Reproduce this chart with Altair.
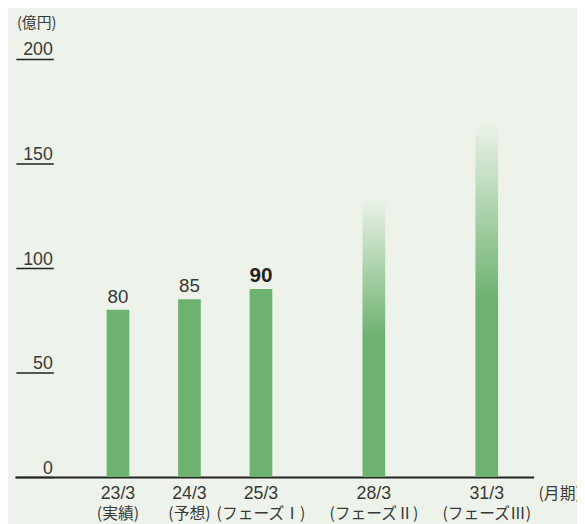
import altair as alt
import pandas as pd

# ---- data ----
years = [23, 24, 25, 28, 31]
periods = ["23/3", "24/3", "25/3", "28/3", "31/3"]
notes = ["(実績)", "(予想)", "(フェーズⅠ)", "(フェーズⅡ)", "(フェーズⅢ)"]
values = [80, 85, 90, 134, 170]
kinds = ["actual", "actual", "actual", "target", "target"]
value_labels = ["80", "85", "90", "", ""]
emphasis = [False, False, True, False, False]
y_ticks = [0, 50, 100, 150, 200]
unit_label = "(億円)"
period_unit = "(月期)"

df = pd.DataFrame({
    "year": years, "period": periods, "note": notes, "value": values,
    "kind": kinds, "label": value_labels, "emph": emphasis,
})

BG = "#edf3ea"
GREEN = "#6db26f"
TXT = "#383838"
AXC = "#222222"
FONT = "Liberation Sans, Noto Sans CJK JP, sans-serif"
JFONT = "Noto Sans CJK JP, Liberation Sans, sans-serif"

xscale = alt.Scale(domain=[21, 23, 25, 31, 32], range=[0, 104.5, 249.5, 478.5, 526], nice=False, zero=False)
yscale = alt.Scale(domain=[0, 200], nice=False)

base = alt.Chart(df)

xenc = alt.X("year:Q", scale=xscale,
             axis=alt.Axis(labels=False, ticks=False, domain=True, domainColor=AXC,
                           domainWidth=2, grid=False, title=None))
yenc = alt.Y("value:Q", scale=yscale,
             axis=alt.Axis(values=y_ticks, grid=False, domain=False, ticks=True, tickSize=38,
                           tickColor=AXC, tickWidth=1.5, offset=-39, labelAlign="right",
                           labelBaseline="alphabetic", labelPadding=-37, labelOffset=-4,
                           labelFontSize=18, labelColor=TXT, labelFont=FONT, title=None))

solid = base.transform_filter(alt.datum.kind == "actual").mark_bar(size=23, color=GREEN).encode(x=xenc, y=yenc)

grad = alt.Gradient(
    gradient="linear",
    stops=[alt.GradientStop(color="rgba(109,178,111,0)", offset=0),
           alt.GradientStop(color=GREEN, offset=0.5),
           alt.GradientStop(color=GREEN, offset=1)],
    x1=0, x2=0, y1=0, y2=1)
target = base.transform_filter(alt.datum.kind == "target").mark_bar(size=23, color=grad).encode(
    x=alt.X("year:Q", scale=xscale), y=alt.Y("value:Q", scale=yscale))

lab_reg = base.transform_filter((alt.datum.label != "") & (alt.datum.emph == False)).mark_text(
    fontSize=19, font=FONT, color=TXT, baseline="alphabetic", dy=-7).encode(
    x=alt.X("year:Q", scale=xscale), y=alt.Y("value:Q", scale=yscale), text="label:N")
lab_bold = base.transform_filter(alt.datum.emph == True).mark_text(
    fontSize=21, font=FONT, fontWeight="bold", color="#222222", baseline="alphabetic", dy=-7).encode(
    x=alt.X("year:Q", scale=xscale), y=alt.Y("value:Q", scale=yscale), text="label:N")

xl1 = base.mark_text(fontSize=18, font=FONT, color=TXT, baseline="alphabetic").encode(
    x=alt.X("year:Q", scale=xscale), y=alt.value(446), text="period:N")
xl2 = base.mark_text(fontSize=16, font=JFONT, color=TXT, baseline="alphabetic").encode(
    x=alt.X("year:Q", scale=xscale), y=alt.value(467), text="note:N")

unit = alt.Chart(pd.DataFrame({"t": [unit_label]})).mark_text(
    fontSize=15, font=JFONT, color=TXT, align="left", baseline="alphabetic").encode(
    x=alt.value(2), y=alt.value(-31), text="t:N")
punit = alt.Chart(pd.DataFrame({"t": [period_unit]})).mark_text(
    fontSize=16, font=JFONT, color=TXT, align="left", baseline="alphabetic").encode(
    x=alt.value(531), y=alt.value(446), text="t:N")

chart = alt.layer(solid, target, lab_reg, lab_bold, xl1, xl2, unit, punit).properties(
    width=526, height=424, autosize="none",
    padding={"left": 7, "top": 48, "right": 44, "bottom": 44},
    background=BG,
).configure_view(stroke=None)

chart.save("out.html", embed_options={"renderer": "svg", "actions": False})
